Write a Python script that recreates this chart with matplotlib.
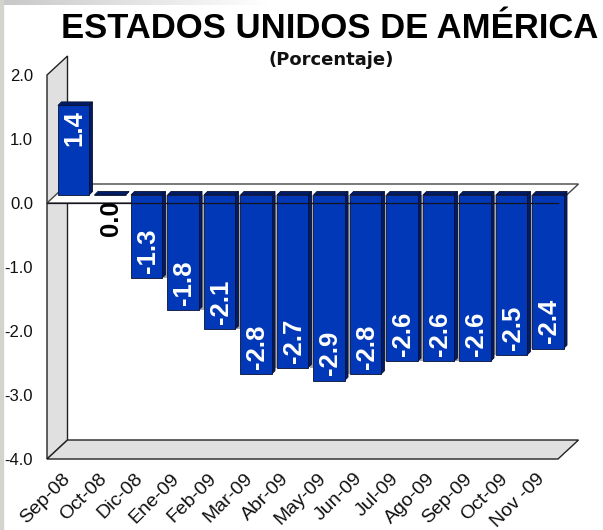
import numpy as np
import matplotlib
matplotlib.use("Agg")
import matplotlib.pyplot as plt
from matplotlib.patches import Polygon, Rectangle

plt.rcParams['font.family'] = ['Liberation Sans', 'DejaVu Sans']

# Chart data
months = ["Sep-08", "Oct-08", "Dic-08", "Ene-09", "Feb-09", "Mar-09", "Abr-09",
          "May-09", "Jun-09", "Jul-09", "Ago-09", "Sep-09", "Oct-09", "Nov -09"]
values = [1.4, 0.0, -1.3, -1.8, -2.1, -2.8, -2.7, -2.9, -2.8, -2.6, -2.6, -2.6, -2.5, -2.4]
labels = ["1.4", "0.0", "-1.3", "-1.8", "-2.1", "-2.8", "-2.7", "-2.9", "-2.8", "-2.6", "-2.6", "-2.6", "-2.5", "-2.4"]
yticks = [2.0, 1.0, 0.0, -1.0, -2.0, -3.0, -4.0]

W, H = 603, 530
fig = plt.figure(figsize=(W / 100, H / 100), dpi=100, facecolor="white")

# grey scraps of the slide behind the chart: top band fades out to the right
band = fig.add_axes([0, 1 - 5 / H, 1, 5 / H], zorder=-2)
band.imshow(np.linspace(0, 1, 256).reshape(1, -1), aspect="auto", cmap="gray", vmin=-1.6, vmax=0.45)
band.axis("off")
fig.patches.append(Rectangle((0, 0), 3 / W, 1, transform=fig.transFigure, color="#d4d4ce", zorder=-1))

# front plane of the fake 3d box is the axes
left, right, top, bottom = 47, 558, 75, 459
ax = fig.add_axes([left / W, 1 - bottom / H, (right - left) / W, (bottom - top) / H])
ax.patch.set_alpha(0)
ax.set_xlim(-0.5, 13.5)
ax.set_ylim(-4, 2)
for s in ax.spines.values():
    s.set_visible(False)

x = np.arange(len(months))
px_x = (right - left) / len(months)
px_y = (bottom - top) / 6

# depth of the box and position of bars inside it
box_dx, box_dy = 20.5 / px_x, 19 / px_y
bar_dx, bar_dy = 8.25 / px_x, 8 / px_y
side_dx, side_dy = 3.5 / px_x, 3.5 / px_y
bw = 0.85
edge = "#222222"

x0, x1 = -0.5, 13.5
ax.add_patch(Polygon([(x0, 2), (x0 + box_dx, 2 + box_dy), (x0 + box_dx, -4 + box_dy), (x0, -4)],
                     closed=True, fc="#e0e0e0", ec=edge, lw=1, clip_on=False, zorder=1))
ax.add_patch(Polygon([(x0, -4), (x0 + box_dx, -4 + box_dy), (x1 + box_dx, -4 + box_dy), (x1, -4)],
                     closed=True, fc="#e0e0e0", ec=edge, lw=1, clip_on=False, zorder=1))
ax.add_patch(Polygon([(x0, 0), (x0 + box_dx, box_dy), (x1 + box_dx, box_dy), (x1, 0)],
                     closed=True, fc="white", ec="#444444", lw=1, clip_on=False, zorder=1.5))

for i, v in enumerate(values):
    xc = x[i] + bar_dx
    xl, xr = xc - bw / 2, xc + bw / 2
    # gray strip between neighbouring bars
    if i >= 3:
        ax.bar(xl - 0.05, max(v, values[i - 1]), bottom=bar_dy, width=0.1, color="#a8a8a8", zorder=2, clip_on=False)
    end = v + bar_dy
    ax.add_patch(Polygon([(xr, bar_dy), (xr + side_dx, bar_dy + side_dy), (xr + side_dx, end + side_dy), (xr, end)],
                         closed=True, fc="#001c66", ec="#0a1030", lw=0.6, clip_on=False, zorder=3))
    top_y = max(bar_dy, end)
    ax.add_patch(Polygon([(xl, top_y), (xl + side_dx, top_y + side_dy), (xr + side_dx, top_y + side_dy), (xr, top_y)],
                         closed=True, fc="#001c66", ec="#0a1030", lw=0.6, clip_on=False, zorder=3))

ax.bar(x + bar_dx, values, bottom=bar_dy, width=bw, color="#0038b8", edgecolor="#0a1030", linewidth=0.6,
       zorder=4, clip_on=False)

# front edge of the zero plane runs over the bars
ax.plot([x0, x1], [0, 0], color="#15151f", lw=0.9, zorder=5, clip_on=False)

# value labels
for i, v in enumerate(values):
    xc = x[i] + bar_dx + 0.03
    if v > 0:
        ax.text(xc, v + bar_dy - 0.08, labels[i], rotation=90, color="white", fontsize=18.5, fontweight="bold",
                ha="center", va="top", zorder=6)
    elif v == 0:
        ax.text(xc, bar_dy - 0.08, labels[i], rotation=90, color="black", fontsize=18.5, fontweight="bold",
                ha="center", va="top", zorder=6)
    else:
        ax.text(xc, v + bar_dy + 0.08, labels[i], rotation=90, color="white", fontsize=18.5, fontweight="bold",
                ha="center", va="bottom", zorder=6)

ax.set_yticks(yticks)
ax.set_yticklabels(["%.1f" % t for t in yticks], fontsize=12, color="#111111")
ax.tick_params(axis="y", length=0, pad=10)
ax.set_xticks(x - 0.1)
ax.set_xticklabels(months, rotation=45, ha="right", rotation_mode="anchor", fontsize=14, color="#111111")
ax.tick_params(axis="x", length=0, pad=8)

fig.text(330 / W, 1 - 28 / H, "ESTADOS UNIDOS DE AMÉRICA", fontsize=24.9, fontweight="bold",
         ha="center", va="center", color="black")
fig.text(331 / W, 1 - 60 / H, "(Porcentaje)", fontsize=13, fontweight="bold", family="DejaVu Sans",
         ha="center", va="center", color="#111111")

fig.savefig("out.png", dpi=100)
